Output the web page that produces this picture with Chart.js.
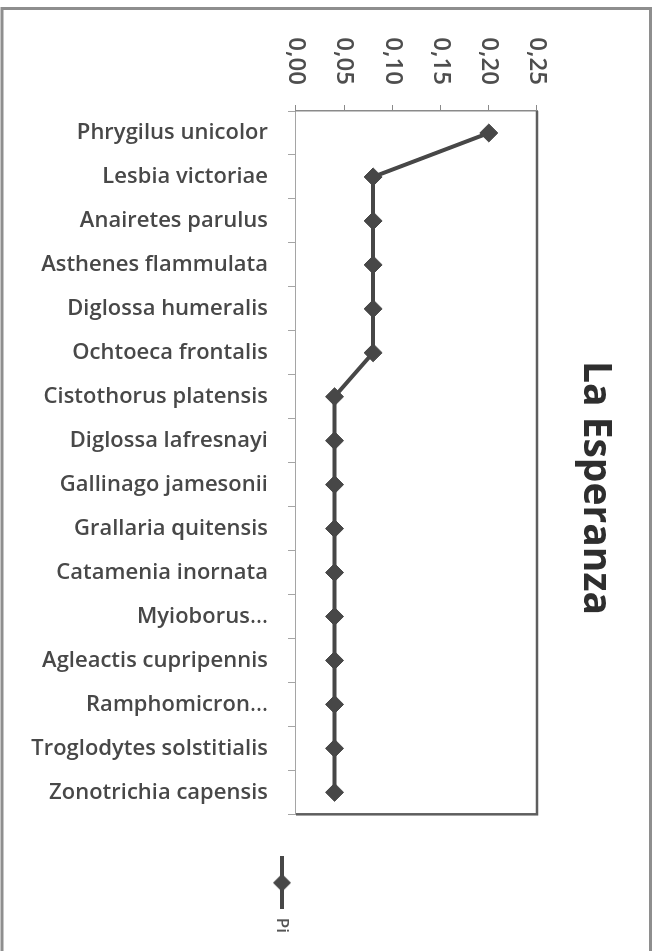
<!DOCTYPE html>
<html>
<head>
<meta charset="utf-8">
<script src="https://cdn.jsdelivr.net/npm/chart.js@4.4.1/dist/chart.umd.min.js"></script>
<style>
  html, body { margin: 0; padding: 0; background: #fff; overflow: hidden; }
  #wrap { position: relative; width: 659px; height: 951px; overflow: hidden; }
  /* chart is drawn in its original landscape form, then turned a quarter clockwise */
  #piChart { position: absolute; left: 0; top: 0; width: 951px; height: 659px;
             transform-origin: 0 0; transform: translate(659px, 0) rotate(90deg); }
</style>
</head>
<body>
<div id="wrap"><canvas id="piChart" width="951" height="659"></canvas></div>
<script>
const species = [
    'Phrygilus unicolor', 'Lesbia victoriae', 'Anairetes parulus', 'Asthenes flammulata',
    'Diglossa humeralis', 'Ochtoeca frontalis', 'Cistothorus platensis', 'Diglossa lafresnayi',
    'Gallinago jamesonii', 'Grallaria quitensis', 'Catamenia inornata', 'Myioborus...',
    'Agleactis cupripennis', 'Ramphomicron...', 'Troglodytes solstitialis', 'Zonotrichia capensis'
];
const piValues = [0.20, 0.08, 0.08, 0.08, 0.08, 0.08, 0.04, 0.04,
                  0.04, 0.04, 0.04, 0.04, 0.04, 0.04, 0.04, 0.04];
const piTickLabels = ['0,00', '0,05', '0,10', '0,15', '0,20', '0,25'];

const lineColor = '#474747';

// legend symbol: line with a diamond, like the Excel marker
const legendMark = document.createElement('canvas');
legendMark.width = 53;
legendMark.height = 22;
(function () {
    const c = legendMark.getContext('2d');
    c.strokeStyle = lineColor;
    c.lineWidth = 4;
    c.beginPath();
    c.moveTo(0, 11);
    c.lineTo(53, 11);
    c.stroke();
    c.fillStyle = lineColor;
    c.beginPath();
    c.moveTo(26.5 - 9, 11);
    c.lineTo(26.5, 2);
    c.lineTo(26.5 + 9, 11);
    c.lineTo(26.5, 20);
    c.closePath();
    c.fill();
})();

const frame = {
    id: 'frame',
    beforeDraw(chart) {
        const c = chart.ctx;
        c.save();
        c.fillStyle = '#fff';
        c.fillRect(0, 0, chart.width, chart.height);
        c.strokeStyle = '#8e8e8e';
        c.lineWidth = 3;
        c.beginPath();
        c.moveTo(chart.width, 8.5);
        c.lineTo(8.5, 8.5);
        c.lineTo(8.5, 657);
        c.lineTo(chart.width, 657);
        c.stroke();
        c.restore();
    },
    afterDraw(chart) {
        const a = chart.chartArea;
        const c = chart.ctx;
        c.save();
        c.strokeStyle = '#5e5e5e';
        c.lineWidth = 2.5;
        c.beginPath();
        c.moveTo(a.left, a.top);
        c.lineTo(a.right, a.top);
        c.lineTo(a.right, a.bottom);
        c.stroke();
        c.restore();
    }
};

new Chart(document.getElementById('piChart'), {
    type: 'line',
    data: {
        labels: species,
        datasets: [{
            label: 'Pi',
            data: piValues,
            borderColor: lineColor,
            backgroundColor: lineColor,
            borderWidth: 4,
            tension: 0,
            pointStyle: 'rectRot',
            pointRadius: 9,
            pointBorderWidth: 1,
            pointBackgroundColor: lineColor,
            pointBorderColor: lineColor
        }]
    },
    options: {
        responsive: false,
        animation: false,
        layout: { padding: { top: 10, left: 33, right: 8, bottom: 18 } },
        scales: {
            x: {
                type: 'category',
                offset: true,
                afterFit: function (scale) { scale.height = 278; },
                grid: { offset: true, drawOnChartArea: false, tickLength: 8, color: '#a5a5a5' },
                border: { color: '#a5a5a5', width: 1 },
                ticks: {
                    autoSkip: false,
                    minRotation: 90,
                    maxRotation: 90,
                    padding: 20,
                    color: '#484848',
                    font: { family: 'Open Sans', size: 22, weight: '600' }
                }
            },
            y: {
                min: 0,
                max: 0.25,
                afterFit: function (scale) { scale.width = 78; },
                grid: { drawOnChartArea: false, tickLength: 6, color: '#8a8a8a' },
                border: { color: '#8a8a8a', width: 1.5 },
                ticks: {
                    stepSize: 0.05,
                    padding: 20,
                    color: '#4e4e4e',
                    font: { family: 'Open Sans', size: 24, weight: '600' },
                    callback: function (value, index) { return piTickLabels[index]; }
                }
            }
        },
        plugins: {
            title: {
                display: true,
                text: 'La Esperanza',
                color: '#2e2e2e',
                font: { family: 'Open Sans', size: 39, weight: 'bold', lineHeight: 1.2 },
                padding: { top: 30.6, bottom: 34.6 }
            },
            legend: {
                position: 'right',
                align: 'center',
                title: { display: true, text: '', font: { size: 10, lineHeight: 1 }, padding: { top: 93, bottom: 0 } },
                labels: {
                    usePointStyle: true,
                    pointStyle: legendMark,
                    pointStyleWidth: 53,
                    padding: 42,
                    color: '#555',
                    font: { family: 'Open Sans', size: 17, weight: '600' }
                }
            },
            tooltip: { enabled: false }
        }
    },
    plugins: [frame]
});
</script>
</body>
</html>
